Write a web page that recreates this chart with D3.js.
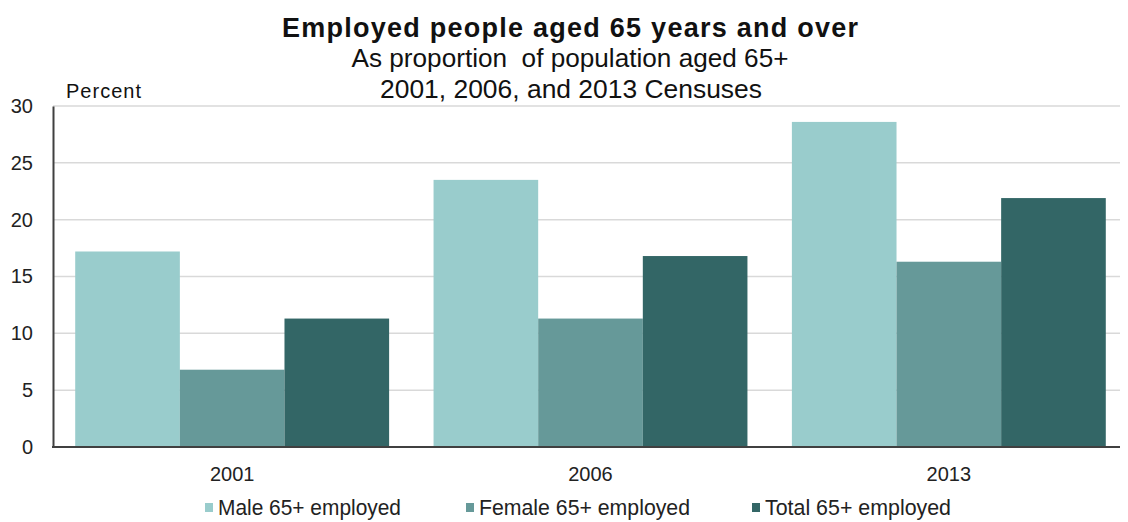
<!DOCTYPE html>
<html>
<head>
<meta charset="utf-8">
<script src="https://cdn.jsdelivr.net/npm/d3@7"></script>
<style>
  body { margin: 0; background: #fff; }
  svg { font-family: "Liberation Sans", Arial, sans-serif; }
  text { white-space: pre; }
</style>
</head>
<body>
<svg id="chart" width="1128" height="522"></svg>
<script>
// data
const years = ["2001", "2006", "2013"];
const seriesNames = ["Male 65+ employed", "Female 65+ employed", "Total 65+ employed"];
const male = [17.2, 23.5, 28.6];
const female = [6.8, 11.3, 16.3];
const total = [11.3, 16.8, 21.9];
const yTicks = [0, 5, 10, 15, 20, 25, 30];

const colors = ["#99cccc", "#669999", "#336666"];

const rows = years.map((y, i) => ({ year: y, values: [male[i], female[i], total[i]] }));

const svg = d3.select("#chart");

const margin = { left: 53, right: 0, top: 106, bottom: 75 };
const width = 1128, height = 522;

const x = d3.scaleBand()
  .domain(years)
  .range([margin.left, width - margin.right])
  .paddingInner(0.124)
  .paddingOuter(0.062);

const xs = d3.scaleBand()
  .domain(d3.range(seriesNames.length))
  .range([0, x.bandwidth()]);

const y = d3.scaleLinear()
  .domain([0, 30])
  .range([height - margin.bottom, margin.top]);

// gridlines
svg.append("g")
  .selectAll("line")
  .data(yTicks.filter(d => d > 0))
  .join("line")
  .attr("x1", margin.left)
  .attr("x2", width - 8)
  .attr("y1", d => y(d))
  .attr("y2", d => y(d))
  .attr("stroke", "#d9d9d9")
  .attr("stroke-width", 1.5);

// bars
const groups = svg.append("g")
  .selectAll("g")
  .data(rows)
  .join("g")
  .attr("transform", d => `translate(${x(d.year)},0)`);

groups.selectAll("rect")
  .data(d => d.values.map((v, i) => ({ v, i })))
  .join("rect")
  .attr("x", d => xs(d.i))
  .attr("width", xs.bandwidth())
  .attr("y", d => y(d.v))
  .attr("height", d => y(0) - y(d.v))
  .attr("fill", d => colors[d.i]);

// y axis
const yAxis = svg.append("g")
  .attr("transform", `translate(${margin.left},0)`)
  .call(d3.axisLeft(y).tickValues(yTicks).tickSize(0).tickPadding(20));
yAxis.select(".domain").attr("stroke", "#404040").attr("stroke-width", 2);
yAxis.selectAll("text")
  .attr("font-size", 20).attr("fill", "#222")
  .attr("font-family", "Liberation Sans, Arial, sans-serif");

// x axis
const xAxis = svg.append("g")
  .attr("transform", `translate(0,${y(0)})`)
  .call(d3.axisBottom(x).tickSize(0).tickPadding(20));
xAxis.select(".domain").remove();
xAxis.selectAll("text")
  .attr("font-size", 20).attr("fill", "#222")
  .attr("font-family", "Liberation Sans, Arial, sans-serif");
svg.append("line")
  .attr("x1", margin.left - 1).attr("x2", width - 8)
  .attr("y1", y(0)).attr("y2", y(0))
  .attr("stroke", "#404040").attr("stroke-width", 2);

// titles
svg.append("text")
  .attr("x", 570).attr("y", 37)
  .attr("text-anchor", "middle")
  .attr("font-size", 27).attr("font-weight", "bold").attr("fill", "#111")
  .attr("textLength", 576).attr("lengthAdjust", "spacing")
  .text("Employed people aged 65 years and over");
svg.append("text")
  .attr("x", 570).attr("y", 67)
  .attr("text-anchor", "middle")
  .attr("font-size", 25).attr("fill", "#111")
  .attr("textLength", 437).attr("lengthAdjust", "spacingAndGlyphs")
  .text("As proportion  of population aged 65+");
svg.append("text")
  .attr("x", 571).attr("y", 98)
  .attr("text-anchor", "middle")
  .attr("font-size", 25).attr("fill", "#111")
  .attr("textLength", 382).attr("lengthAdjust", "spacingAndGlyphs")
  .text("2001, 2006, and 2013 Censuses");
svg.append("text")
  .attr("x", 66).attr("y", 98)
  .attr("font-size", 20).attr("fill", "#111")
  .attr("textLength", 75).attr("lengthAdjust", "spacing")
  .text("Percent");

// legend
const legendX = [205, 466, 752];
const legendLen = [183, 211, 186];
const legend = svg.append("g")
  .selectAll("g")
  .data(seriesNames)
  .join("g")
  .attr("transform", (d, i) => `translate(${legendX[i]},515)`);
legend.append("rect")
  .attr("x", 0).attr("y", -12)
  .attr("width", 8).attr("height", 9)
  .attr("fill", (d, i) => colors[i]);
legend.append("text")
  .attr("x", 13).attr("y", 0)
  .attr("font-size", 22).attr("fill", "#222")
  .attr("textLength", (d, i) => legendLen[i]).attr("lengthAdjust", "spacingAndGlyphs")
  .text(d => d);
</script>
</body>
</html>
